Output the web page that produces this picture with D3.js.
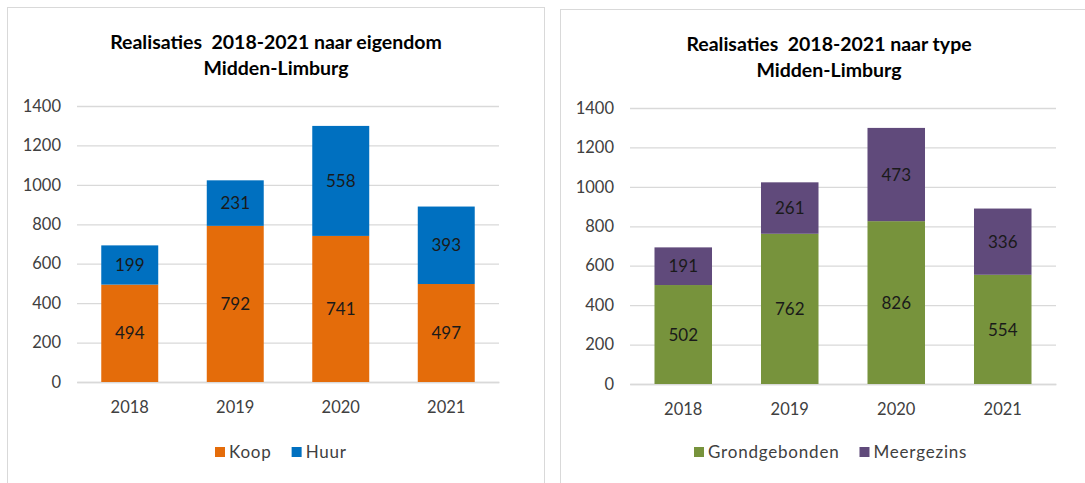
<!DOCTYPE html>
<html>
<head>
<meta charset="utf-8">
<script src="https://cdn.jsdelivr.net/npm/d3@7"></script>
<style>
  body { margin: 0; background: #fff; }
  svg { display: block; }
  text { font-family: Lato, "Open Sans", sans-serif; }
</style>
</head>
<body>
<script>
// Realisaties 2018-2021, Midden-Limburg
var years = ["2018", "2019", "2020", "2021"];
var yTicks = [0, 200, 400, 600, 800, 1000, 1200, 1400];

// left chart: naar eigendom
var koop = [494, 792, 741, 497];
var huur = [199, 231, 558, 393];

// right chart: naar type
var grondgebonden = [502, 762, 826, 554];
var meergezins = [191, 261, 473, 336];

var svg = d3.select("body").append("svg")
    .attr("width", 1085)
    .attr("height", 483);

var charts = [
  {
    box: {x: 7.5, y: 7.5, w: 537, h: 500},
    title: ["Realisaties  2018-2021 naar eigendom", "Midden-Limburg"],
    plot: {left: 77, right: 499, top: 106, bottom: 382},
    series: [
      {name: "Koop", values: koop, color: "#e46c0a"},
      {name: "Huur", values: huur, color: "#0070c0"}
    ],
    legendX: 215
  },
  {
    box: {x: 560.5, y: 9.5, w: 537, h: 500},
    title: ["Realisaties  2018-2021 naar type", "Midden-Limburg"],
    plot: {left: 630, right: 1056, top: 108, bottom: 384},
    series: [
      {name: "Grondgebonden", values: grondgebonden, color: "#77933c"},
      {name: "Meergezins", values: meergezins, color: "#604a7b"}
    ],
    legendX: 694
  }
];

charts.forEach(function(c){ drawChart(c); });

function drawChart(c){
  var g = svg.append("g");

  // panel frame
  g.append("rect")
    .attr("x", c.box.x).attr("y", c.box.y)
    .attr("width", c.box.w).attr("height", c.box.h)
    .attr("fill", "#fff")
    .attr("stroke", "#d9d9d9");

  var cx = c.box.x + c.box.w / 2;
  g.selectAll(".title")
    .data(c.title)
    .enter().append("text")
    .attr("x", cx)
    .attr("y", function(d, i){ return c.box.y + 41 + i * 26; })
    .attr("text-anchor", "middle")
    .attr("font-size", "19.5px")
    .attr("font-weight", "bold")
    .attr("fill", "#000")
    .style("white-space", "pre")
    .text(function(d){ return d; });

  var x = d3.scaleBand()
    .domain(years)
    .range([c.plot.left, c.plot.right])
    .paddingInner(0.46)
    .paddingOuter(0.23);

  var y = d3.scaleLinear()
    .domain([0, 1400])
    .range([c.plot.bottom, c.plot.top]);

  // gridlines + y labels
  var yAxis = d3.axisLeft(y)
    .tickValues(yTicks)
    .tickFormat(d3.format("d"))
    .tickSize(-(c.plot.right - c.plot.left))
    .tickPadding(16);

  var ya = g.append("g")
    .attr("transform", "translate(" + c.plot.left + ",0)")
    .call(yAxis);
  ya.select(".domain").remove();
  ya.selectAll("line").attr("stroke", "#d9d9d9").attr("stroke-width", 1.3);
  ya.selectAll("text")
    .attr("font-size", "16.5px")
    .attr("fill", "#404040")
    .attr("font-family", "Lato, sans-serif");

  var xAxis = d3.axisBottom(x).tickSize(0).tickPadding(19);
  var xa = g.append("g")
    .attr("transform", "translate(0," + c.plot.bottom + ")")
    .call(xAxis);
  xa.select(".domain").attr("stroke", "#d9d9d9").attr("stroke-width", 1.3);
  xa.selectAll("text")
    .attr("font-size", "16.5px")
    .attr("fill", "#404040")
    .attr("font-family", "Lato, sans-serif");

  // stacked bars
  var rows = years.map(function(yr, i){
    var r = {year: yr};
    c.series.forEach(function(s){ r[s.name] = s.values[i]; });
    return r;
  });
  var stacked = d3.stack().keys(c.series.map(function(s){ return s.name; }))(rows);

  stacked.forEach(function(layer, k){
    var col = c.series[k].color;
    var lg = g.append("g");
    lg.selectAll("rect")
      .data(layer)
      .enter().append("rect")
      .attr("x", function(d){ return x(d.data.year); })
      .attr("width", x.bandwidth())
      .attr("y", function(d){ return y(d[1]); })
      .attr("height", function(d){ return y(d[0]) - y(d[1]); })
      .attr("fill", col);

    lg.selectAll("text")
      .data(layer)
      .enter().append("text")
      .attr("x", function(d){ return x(d.data.year) + x.bandwidth() / 2; })
      .attr("y", function(d){ return (y(d[0]) + y(d[1])) / 2; })
      .attr("dy", "0.36em")
      .attr("text-anchor", "middle")
      .attr("font-size", "17px")
      .attr("fill", "#1a1a1a")
      .text(function(d){ return d[1] - d[0]; });
  });

  // legend
  var leg = g.append("g").attr("transform", "translate(" + c.legendX + ",452)");
  var off = 0;
  c.series.forEach(function(s){
    var item = leg.append("g").attr("transform", "translate(" + off + ",0)");
    item.append("rect")
      .attr("x", 0).attr("y", -5)
      .attr("width", 10).attr("height", 10)
      .attr("fill", s.color);
    var t = item.append("text")
      .attr("x", 14)
      .attr("dy", "0.36em")
      .attr("font-size", "17px")
      .attr("fill", "#404040")
      .style("letter-spacing", "0.8px")
      .text(s.name);
    off += 14 + t.node().getComputedTextLength() + 20;
  });
}
</script>
</body>
</html>
